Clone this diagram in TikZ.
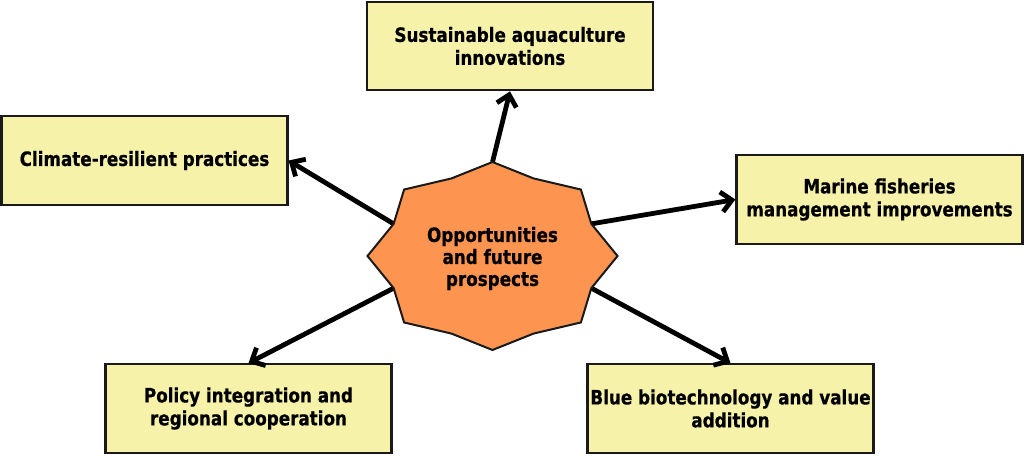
\documentclass[tikz,border=0pt]{standalone}
\usepackage{fontspec}
\setmainfont{DejaVu Sans}
\newfontfamily\labfont[FakeStretch=0.85,FakeBold=0.6]{DejaVu Sans Bold}
\usetikzlibrary{arrows.meta}
\definecolor{boxfill}{HTML}{F7F2A9}
\definecolor{starfill}{HTML}{FD944F}
\definecolor{edge}{HTML}{1A1A1A}
\begin{document}
\begin{tikzpicture}[x=0.75pt,y=0.75pt,
  card/.style={draw=edge, line width=1.6pt, fill=boxfill, minimum width=214.5pt,
    minimum height=66.5pt, align=center, inner sep=0pt,
    font=\labfont\fontsize{14.8}{17.2}\selectfont},
  hubtext/.style={align=center, inner sep=0pt, font=\labfont\fontsize{14.8}{16.5}\selectfont},
  starshape/.style={draw=edge, line width=1.5pt, fill=starfill, line join=miter},
  link/.style={draw=black, line width=3.6pt, -{Straight Barb[length=8pt,width=15pt]}},
  ]
\useasboundingbox (0,0) rectangle (1024,455);
% boxes
\node[card] (top) at (510,409) {Sustainable aquaculture\\innovations};
\node[card] (left) at (144.5,294.5) {Climate-resilient practices};
\node[card] (right) at (879.5,255.5) {Marine fisheries\\management improvements};
\node[card] (bl) at (248.5,46.5) {Policy integration and\\regional cooperation};
\node[card] (br) at (730.5,46.5) {Blue biotechnology and value\\addition};
% star anchor points
\begin{scope}[shift={(492.5,199)}]
\coordinate (sT) at (90:125 and 94);
\coordinate (sL) at (157.5:107 and 84);
\coordinate (sR) at (22.5:107 and 84);
\coordinate (sBL) at (-157.5:107 and 84);
\coordinate (sBR) at (-22.5:107 and 84);
\end{scope}
% connectors
\draw[link] (sT) -- (top.south);
\draw[link] (sL) -- (left.east);
\draw[link] (sR) -- (right.west);
\draw[link] (sBL) -- (bl.north);
\draw[link] (sBR) -- (br.north);
% star
\begin{scope}[shift={(492.5,199)}]
\draw[starshape] (90:125 and 94) -- (67.5:107 and 84) -- (45:125 and 94) -- (22.5:107 and 84)
  -- (0:125 and 94) -- (-22.5:107 and 84) -- (-45:125 and 94) -- (-67.5:107 and 84)
  -- (-90:125 and 94) -- (-112.5:107 and 84) -- (-135:125 and 94) -- (-157.5:107 and 84)
  -- (180:125 and 94) -- (157.5:107 and 84) -- (135:125 and 94) -- (112.5:107 and 84) -- cycle;
\end{scope}
\node[hubtext] (hub) at (492.5,196.5) {Opportunities\\and future\\prospects};
\end{tikzpicture}
\end{document}
